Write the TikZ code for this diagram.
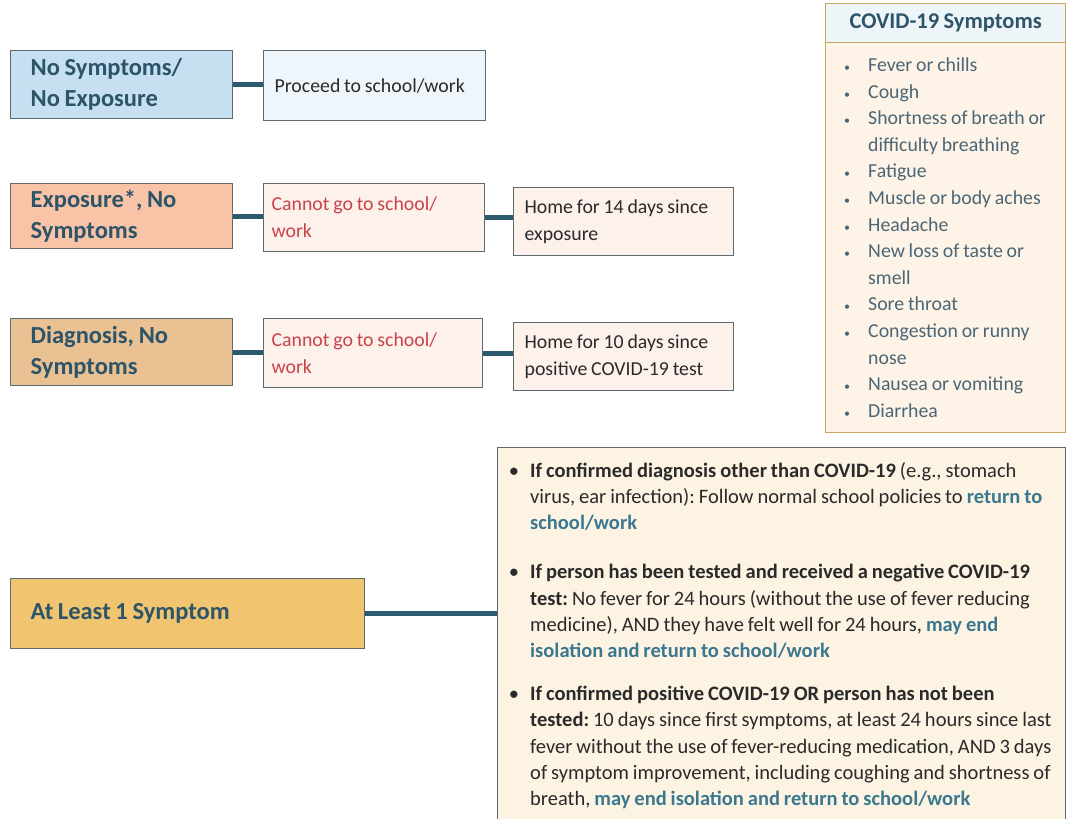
\documentclass[tikz,border=0pt]{standalone}
\usepackage{fontspec}
\setmainfont[WordSpace=0.85]{Carlito}
\frenchspacing
\definecolor{boxline}{HTML}{5E6A70}
\definecolor{tealdark}{HTML}{2D5468}
\definecolor{bodytext}{HTML}{2A2A2A}
\definecolor{connc}{HTML}{2C5A6E}
\definecolor{fA}{HTML}{C6E0F2}
\definecolor{fAs}{HTML}{EEF6FC}
\definecolor{fB}{HTML}{F8C3A6}
\definecolor{fBs}{HTML}{FDF1EC}
\definecolor{fC}{HTML}{E9C193}
\definecolor{fD}{HTML}{F1C470}
\definecolor{fBig}{HTML}{FCF3E3}
\definecolor{redtxt}{HTML}{C9434A}
\definecolor{symhead}{HTML}{EEF5F9}
\definecolor{symbody}{HTML}{FDF3E6}
\definecolor{symline}{HTML}{C8A461}
\definecolor{symtxt}{HTML}{4B6676}
\definecolor{hl}{HTML}{3B7890}
\newcommand{\hlt}[1]{{\bfseries\color{hl}#1}}
\newcommand{\bul}{\makebox[0pt][r]{\textbullet\hspace{11pt}}}
\newcommand{\sbul}{\makebox[0pt][r]{{\fontsize{12}{12}\selectfont\textbullet}\hspace{18pt}}}
\tikzset{
  box/.style={draw=boxline, line width=1.3pt, anchor=north west, align=left, inner ysep=0pt,
    execute at begin node={\spaceskip=0pt\xspaceskip=0pt\relax}},
  headbox/.style={box, font=\fontsize{24.5}{31}\selectfont\bfseries, text=tealdark, inner xsep=20pt},
  subbox/.style={box, font=\fontsize{19.8}{27}\selectfont, text=bodytext},
  conn/.style={draw=connc, line width=5pt},
  para/.style={anchor=west, align=left, inner sep=0pt, font=\fontsize{20.5}{26.2}\selectfont, text=bodytext},
}
\begin{document}
\begin{tikzpicture}[x=1pt,y=-1pt]
\useasboundingbox (0,0) rectangle (1068,819);
\clip (0,0) rectangle (1068,819);
\fill[white] (0,0) rectangle (1068,819);

% row 1
\node[headbox, fill=fA, minimum height=68pt, text width=182pt] (ns) at (10,50) {No Symptoms/\\No Exposure};
\node[subbox, fill=fAs, minimum height=70pt, inner xsep=11pt, text width=200pt] (ps) at (263,50) {Proceed to school/work};
\draw[conn] (ns.east) -- (ps.west |- ns.east);

% row 2
\node[headbox, fill=fB, minimum height=65pt, text width=182pt] (ex) at (10,183) {Exposure*, No\\Symptoms};
\node[subbox, fill=fBs, minimum height=68pt, inner xsep=8pt, text width=205pt, text=redtxt] (exc) at (263,183) {Cannot go to school/\\work};
\node[subbox, fill=fBs, minimum height=68pt, inner xsep=11pt, text width=198pt] (exh) at (513,187) {Home for 14 days since\\exposure};
\draw[conn] (ex.east) -- (exc.west |- ex.east);
\draw[conn] (exc.east) -- (exh.west |- exc.east);

% row 3
\node[headbox, fill=fC, minimum height=67pt, text width=182pt] (dg) at (10,318) {Diagnosis, No\\Symptoms};
\node[subbox, fill=fBs, minimum height=69pt, inner xsep=8pt, text width=203pt, text=redtxt] (dgc) at (263,318) {Cannot go to school/\\work};
\node[subbox, fill=fBs, minimum height=68pt, inner xsep=11pt, text width=198pt] (dgh) at (513,322) {Home for 10 days since\\positive COVID-19 test};
\draw[conn] (dg.east) -- (dgc.west |- dg.east);
\draw[conn] (dgc.east) -- (dgh.west |- dgc.east);

% symptoms box
\node[draw=symline, line width=1.3pt, fill=symbody, anchor=north west, minimum width=240pt, minimum height=390pt, inner sep=0pt] (sb) at (825,42) {};
\node[draw=symline, line width=1.3pt, fill=symhead, anchor=north west, minimum width=240pt, minimum height=39pt, inner sep=0pt, font=\fontsize{22.5}{24}\selectfont\bfseries, text=tealdark] (sh) at (825,3) {COVID-19 Symptoms};
\node[para, font=\fontsize{19.8}{26.6}\selectfont, text=symtxt] (sl) at (868,237.5) {\sbul Fever or chills\\\sbul Cough\\\sbul Shortness of breath or\\difficulty breathing\\\sbul Fatigue\\\sbul Muscle or body aches\\\sbul Headache\\\sbul New loss of taste or\\smell\\\sbul Sore throat\\\sbul Congestion or runny\\nose\\\sbul Nausea or vomiting\\\sbul Diarrhea};

% at least 1 symptom
\node[headbox, fill=fD, minimum height=70pt, text width=314pt] (s1) at (10,578) {At Least 1 Symptom};
\node[draw=boxline, line width=1.3pt, fill=fBig, anchor=north west, minimum width=568pt, minimum height=420pt, inner sep=0pt] (big) at (497,447) {};
\draw[conn] (s1.east) -- (big.west |- s1.east);

\node[para] (p1) at (530,496.5) {\bul\textbf{If confirmed diagnosis other than COVID-19} (e.g., stomach\\virus, ear infection): Follow normal school policies to \hlt{return to}\\\hlt{school/work}};
\node[para] (p2) at (530,611.5) {\bul\textbf{If person has been tested and received a negative COVID-19}\\\textbf{test:} No fever for 24 hours (without the use of fever reducing\\medicine), AND they have felt well for 24 hours, \hlt{may end}\\\hlt{isolation and return to school/work}};
\node[para] (p3) at (530,747.5) {\bul\textbf{If confirmed positive COVID-19 OR person has not been}\\\textbf{tested:} 10 days since first symptoms, at least 24 hours since last\\fever without the use of fever-reducing medication, AND 3 days\\of symptom improvement, including coughing and shortness of\\breath, \hlt{may end isolation and return to school/work}};
\end{tikzpicture}
\end{document}
